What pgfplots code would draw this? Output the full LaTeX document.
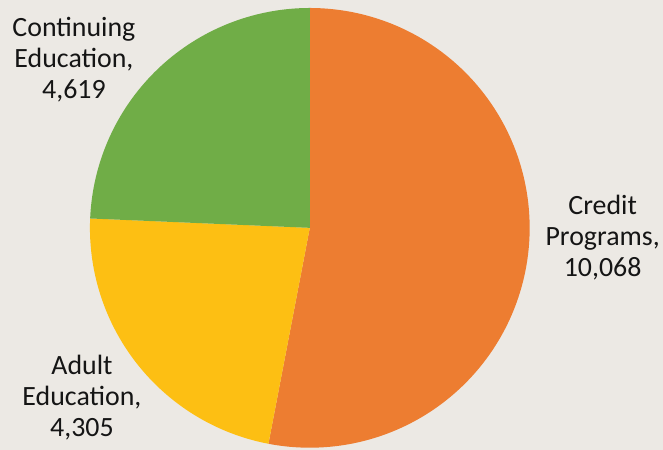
\documentclass[border=0pt]{standalone}
\usepackage{pgfplots}
\pgfplotsset{compat=1.18}
\usepackage{fontspec}
\setmainfont{Carlito}
\definecolor{bgc}{HTML}{ECE9E4}
\definecolor{corange}{HTML}{ED7D31}
\definecolor{cyellow}{HTML}{FDBF13}
\definecolor{cgreen}{HTML}{70AD47}
\definecolor{txt}{HTML}{151515}
% data values
\def\vCredit{10068}
\def\vAdult{4305}
\def\vCont{4619}
\pgfmathsetmacro\tot{\vCredit/1000+\vAdult/1000+\vCont/1000}
\pgfmathsetmacro\aA{90-360*(\vCredit/1000)/\tot}
\pgfmathsetmacro\aB{\aA-360*(\vAdult/1000)/\tot}
\pgfmathsetmacro\aC{\aB-360*(\vCont/1000)/\tot}
\begin{document}
\begin{tikzpicture}
\begin{axis}[
  scale only axis, width=663bp, height=450bp,
  xmin=0, xmax=663, ymin=0, ymax=450,
  hide axis, clip=false,
]
\fill[bgc] (axis cs:0,0) rectangle (axis cs:663,450);
\addplot[fill=corange, draw=none, domain=\aA:90, samples=200, variable=\t]
  ({310+220*cos(\t)}, {222+220*sin(\t)}) -- (axis cs:310,222) -- cycle;
\addplot[fill=cyellow, draw=none, domain=\aB:\aA, samples=120, variable=\t]
  ({310+220*cos(\t)}, {222+220*sin(\t)}) -- (axis cs:310,222) -- cycle;
\addplot[fill=cgreen, draw=none, domain=\aC:\aB, samples=120, variable=\t]
  ({310+220*cos(\t)}, {222+220*sin(\t)}) -- (axis cs:310,222) -- cycle;
\node[align=center, text=txt, font=\fontsize{28}{31}\selectfont] at (axis cs:603,212) {Credit\\Programs,\\10,068};
\node[align=center, text=txt, font=\fontsize{28}{31}\selectfont] at (axis cs:74,390) {Continuing\\Education,\\4,619};
\node[align=center, text=txt, font=\fontsize{28}{31}\selectfont] at (axis cs:82,52) {Adult\\Education,\\4,305};
\end{axis}
\end{tikzpicture}
\end{document}
